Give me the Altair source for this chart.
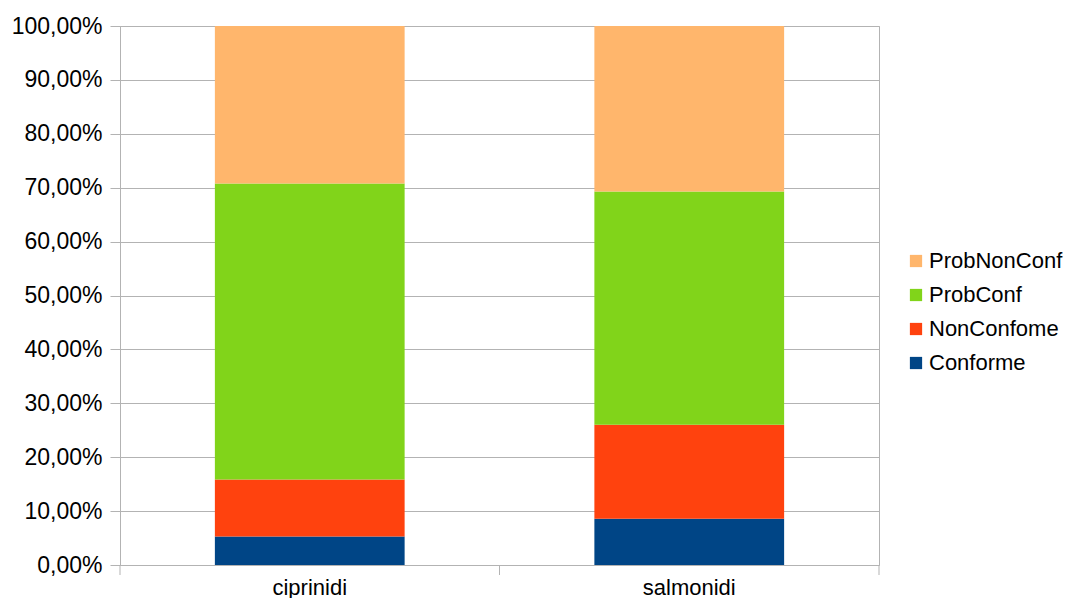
import altair as alt
import pandas as pd

categories = ["ciprinidi", "salmonidi"]
series = ["Conforme", "NonConfome", "ProbConf", "ProbNonConf"]
conforme = [0.053, 0.0857]
non_conforme = [0.1055, 0.1743]
prob_conf = [0.5495, 0.433]
prob_non_conf = [0.2920, 0.307]
colors = ["#004586", "#ff420e", "#81d41a", "#ffb66c"]
y_ticks = [0, 0.1, 0.2, 0.3, 0.4, 0.5, 0.6, 0.7, 0.8, 0.9, 1.0]
category_boundaries = [0, 1, 2]

rows = []
for i, c in enumerate(categories):
    for k, (s, vals) in enumerate(zip(series, [conforme, non_conforme, prob_conf, prob_non_conf])):
        rows.append({"cat": c, "serie": s, "value": vals[i], "ord": k})
df = pd.DataFrame(rows)
bound_df = pd.DataFrame({"b": category_boundaries})

FONT = "Liberation Sans"
GRID = "#b3b3b3"

xscale = alt.Scale(domain=categories, paddingInner=0.5, paddingOuter=0.25)

bars = alt.Chart(df).mark_bar().encode(
    x=alt.X("cat:N", title=None, scale=xscale,
            axis=alt.Axis(labelAngle=0, labelFontSize=22, labelFont=FONT, labelColor="#000000",
                          ticks=False, domain=False, grid=False, labelPadding=12)),
    y=alt.Y("value:Q", title=None, stack="zero",
            scale=alt.Scale(domain=[0, 1], nice=False),
            axis=alt.Axis(values=y_ticks, labelExpr="replace(format(datum.value, '.2%'), '.', ',')",
                          labelFontSize=23, labelFont=FONT, labelColor="#000000",
                          tickSize=10, tickColor=GRID, domainColor=GRID, gridColor=GRID,
                          labelPadding=8)),
    color=alt.Color("serie:N", title=None,
                    scale=alt.Scale(domain=series, range=colors),
                    sort=["ProbNonConf", "ProbConf", "NonConfome", "Conforme"],
                    legend=alt.Legend(orient="none", legendX=785, legendY=224,
                                      symbolType="square", symbolSize=150, symbolStrokeWidth=0,
                                      labelFontSize=22, labelFont=FONT, labelColor="#000000",
                                      labelOffset=2, rowPadding=12, padding=0,
                                      values=["ProbNonConf", "ProbConf", "NonConfome", "Conforme"])),
    order=alt.Order("ord:Q", sort="ascending"),
)

xticks = alt.Chart(bound_df).mark_rule(color=GRID, strokeWidth=1).encode(
    x=alt.X("b:Q", scale=alt.Scale(domain=[0, 2], nice=False, zero=False), axis=None),
    y=alt.value(539), y2=alt.value(549),
)

chart = alt.layer(bars, xticks).resolve_scale(x="independent").properties(
    width=759, height=539,
    autosize=alt.AutoSizeParams(type="none"),
    padding={"left": 112, "top": 18, "right": 186, "bottom": 33},
).configure_view(stroke=GRID, strokeWidth=1)

chart.save("out.html", embed_options={"renderer": "svg", "actions": False})
